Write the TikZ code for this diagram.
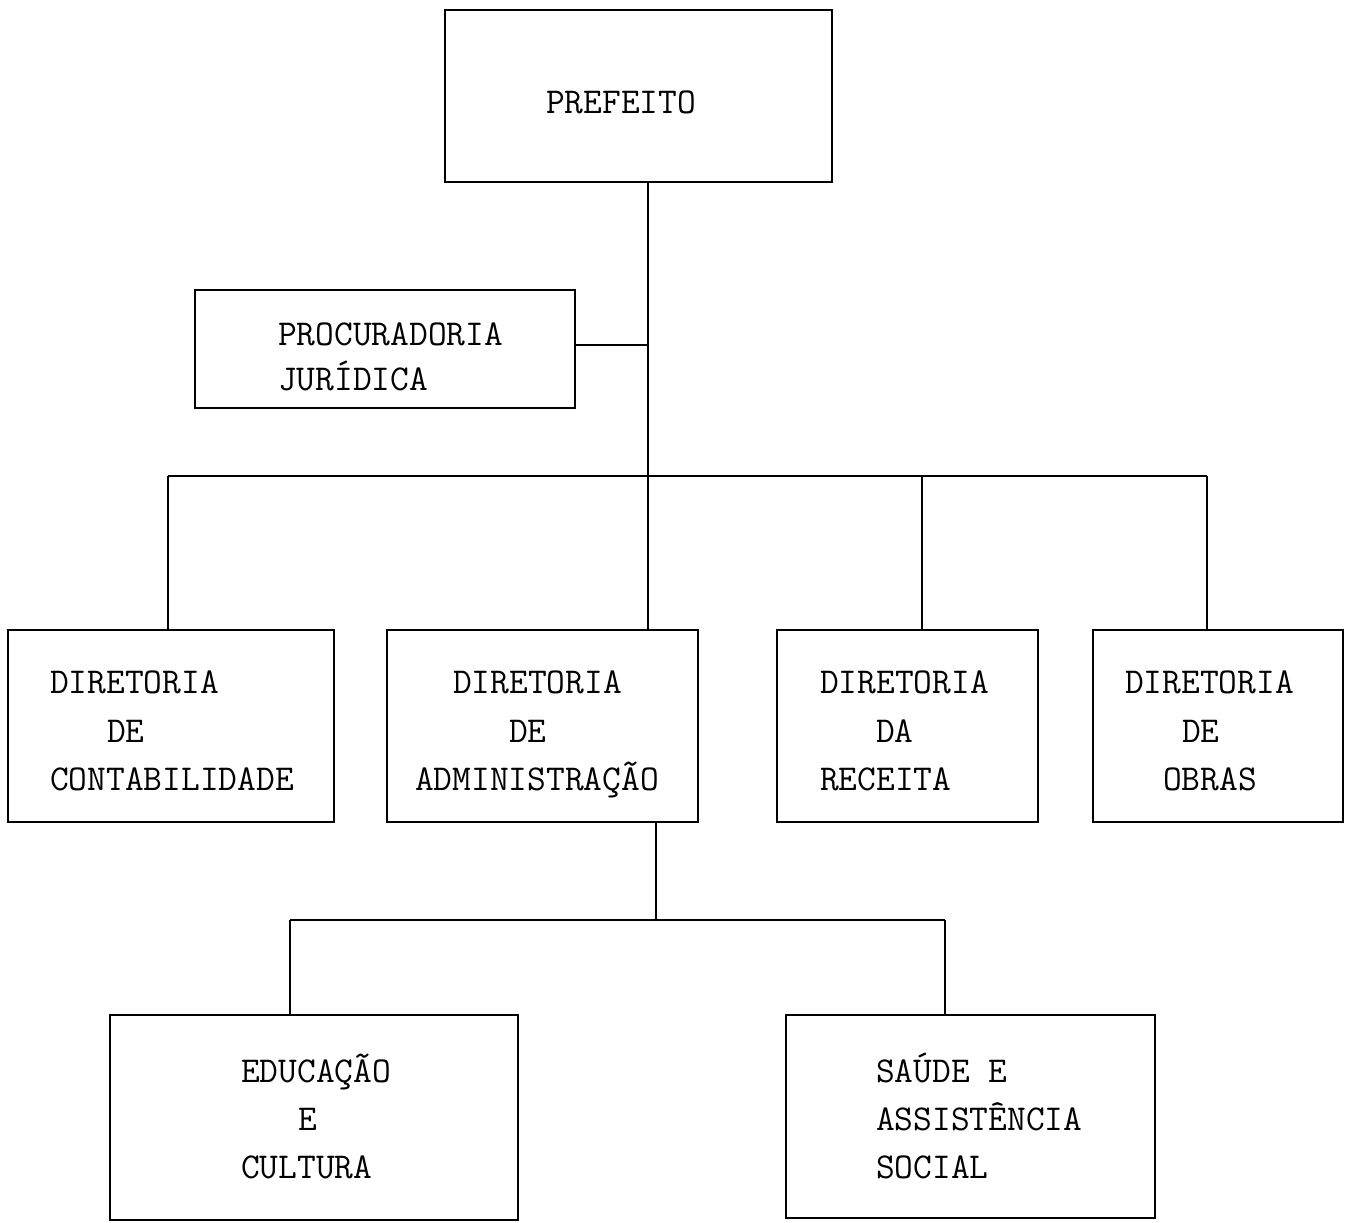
\documentclass[tikz,border=0pt]{standalone}
\usepackage{fontspec}
\newcommand\twfont{\ttfamily\fontsize{36.4}{44}\selectfont}
\tikzset{
  box/.style={draw=black, line width=1.8pt},
  conn/.style={draw=black, line width=1.6pt},
  lbl/.style={anchor=base west, inner sep=0pt, font=\twfont, text=black},
}
\begin{document}
\begin{tikzpicture}[x=1pt,y=-1pt]
\useasboundingbox[fill=white] (0,0) rectangle (1349,1223);
% boxes
\draw[box] (445,10) rectangle (832,182);
\coordinate (prefS) at (648,182);
\draw[box] (195,290) rectangle (575,408);
\coordinate (procE) at (575,345);
\draw[box] (8,630) rectangle (334,822);
\draw[box] (387,630) rectangle (698,822);
\draw[box] (777,630) rectangle (1038,822);
\draw[box] (1093,630) rectangle (1343,822);
\draw[box] (110,1015) rectangle (518,1220);
\draw[box] (786,1015) rectangle (1155,1218);
% coordinates of connector ends
\coordinate (admN) at (648,630);
\coordinate (trunkP) at (648,345);
\coordinate (busL) at (168,476);
\coordinate (busR) at (1207,476);
\coordinate (busRec) at (922,476);
\coordinate (contN) at (168,630);
\coordinate (recN) at (922,630);
\coordinate (obrN) at (1207,630);
\coordinate (admS) at (656,822);
\coordinate (bus2M) at (656,920);
\coordinate (bus2L) at (290,920);
\coordinate (bus2R) at (945,920);
\coordinate (eduN) at (290,1015);
\coordinate (sauN) at (945,1015);
% connectors
\draw[conn] (prefS) -- (admN);
\draw[conn] (procE) -- (trunkP);
\draw[conn] (busL) -- (busR);
\draw[conn] (busL) -- (contN);
\draw[conn] (busR) -- (obrN);
\draw[conn] (busRec) -- (recN);
\draw[conn] (admS) -- (bus2M);
\draw[conn] (bus2L) -- (bus2R);
\draw[conn] (bus2L) -- (eduN);
\draw[conn] (bus2R) -- (sauN);
% labels
\node[lbl] (tpref) at (546,113) {PREFEITO};
\node[lbl] (tproc1) at (278,345) {PROCURADORIA};
\node[lbl] (tproc2) at (278,390) {JURÍDICA};
\node[lbl] (tc1) at (50,693) {DIRETORIA};
\node[lbl] (tc2) at (107,742) {DE};
\node[lbl] (tc3) at (50,790) {CONTABILIDADE};
\node[lbl] (ta1) at (453,693) {DIRETORIA};
\node[lbl] (ta2) at (509,742) {DE};
\node[lbl] (ta3) at (415,790) {ADMINISTRAÇÃO};
\node[lbl] (tr1) at (820,693) {DIRETORIA};
\node[lbl] (tr2) at (876,742) {DA};
\node[lbl] (tr3) at (820,790) {RECEITA};
\node[lbl] (to1) at (1125,693) {DIRETORIA};
\node[lbl] (to2) at (1182,742) {DE};
\node[lbl] (to3) at (1163,790) {OBRAS};
\node[lbl] (te1) at (241,1082) {EDUCAÇÃO};
\node[lbl] (te2) at (298,1130) {E};
\node[lbl] (te3) at (241,1178) {CULTURA};
\node[lbl] (ts1) at (876,1082) {SAÚDE E};
\node[lbl] (ts2) at (876,1130) {ASSISTÊNCIA};
\node[lbl] (ts3) at (876,1178) {SOCIAL};
\end{tikzpicture}
\end{document}
